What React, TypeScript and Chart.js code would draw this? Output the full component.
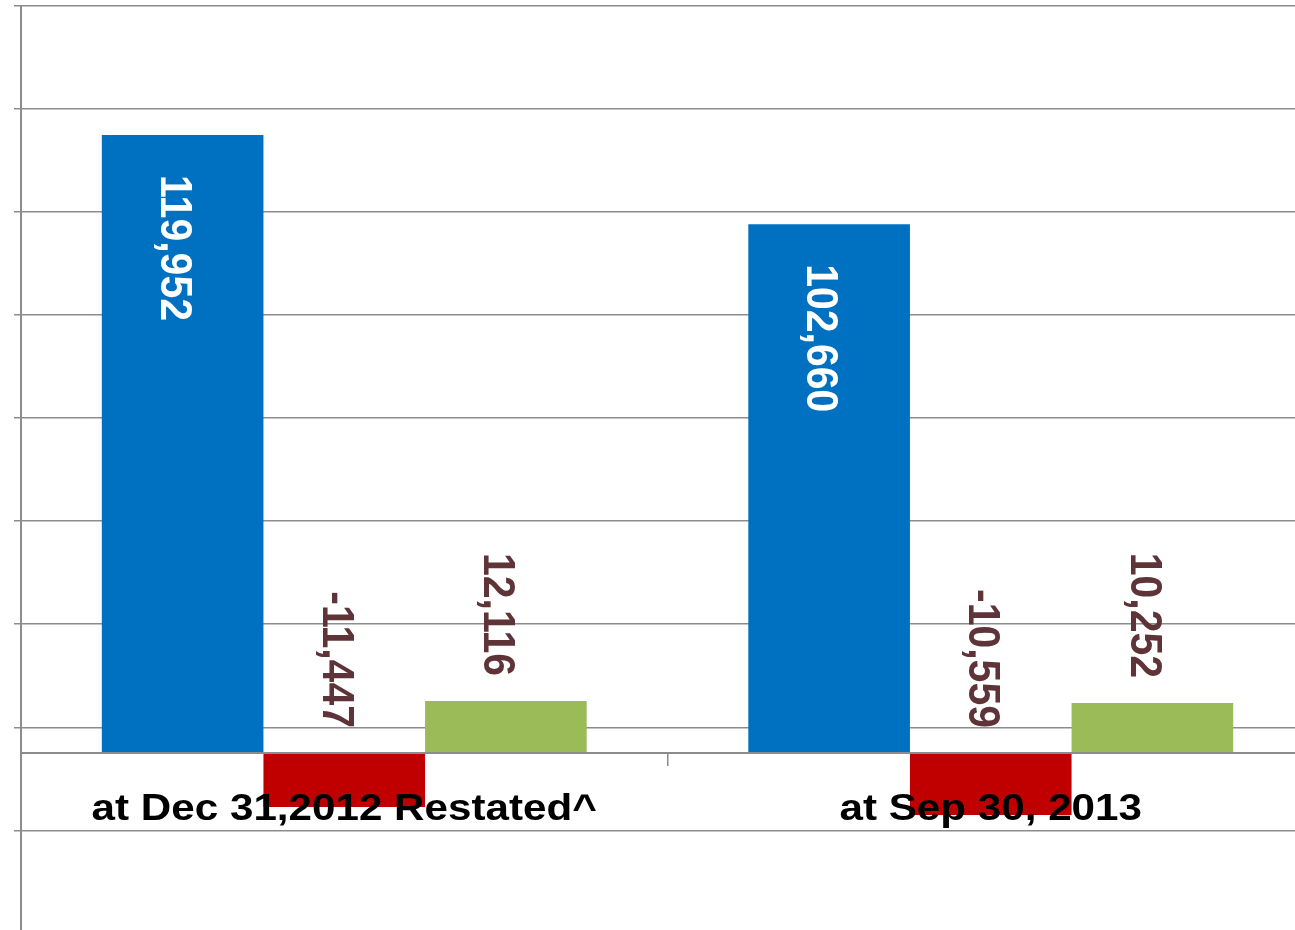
import React, { useEffect, useRef } from "react";
import { Chart, registerables } from "chart.js";

Chart.register(...registerables);

const categories = ["at Dec 31,2012 Restated^", "at Sep 30, 2013"];
const seriesBlue = [119952, 102660];
const seriesRed = [-10480, -12030];
const seriesGreen = [10090, 9700];
const labelsBlue = ["119,952", "102,660"];
const labelsRed = ["-11,447", "-10,559"];
const labelsGreen = ["12,116", "10,252"];
const yTicks = [-15000, 5000, 25000, 45000, 65000, 85000, 105000, 125000, 145000];

const FONT = '"Liberation Sans", Arial, sans-serif';
const GRID = "#8c8c8c";
const STRETCH_X = 1.14;

const dataLabelPlugin = {
  id: "rotatedLabels",
  afterDatasetsDraw(chart: any) {
    const ctx = chart.ctx;
    const size = 41;
    const sx = 1.07;
    const capH = size * 0.716 * sx;
    const sets = [
      { labels: labelsBlue, color: "#ffffff", inside: true },
      { labels: labelsRed, color: "#5E3438", inside: false },
      { labels: labelsGreen, color: "#5E3438", inside: false },
    ];
    ctx.save();
    ctx.font = `bold ${size}px ${FONT}`;
    sets.forEach((s, di) => {
      const meta = chart.getDatasetMeta(di);
      meta.data.forEach((bar: any, i: number) => {
        const top = Math.min(bar.y, bar.base);
        const cx = bar.x - 6 - capH / 2;
        ctx.save();
        ctx.fillStyle = s.color;
        ctx.textBaseline = "alphabetic";
        if (s.inside) {
          ctx.translate(cx, top + 40);
          ctx.textAlign = "left";
        } else {
          ctx.translate(cx, top - 25);
          ctx.textAlign = "right";
        }
        ctx.scale(sx, 1);
        ctx.rotate(Math.PI / 2);
        ctx.fillText(s.labels[i], 0, 0);
        ctx.restore();
      });
    });

    // category labels (slightly wide bold text, as in the reference)
    const xs = chart.scales.x;
    const zeroY = chart.scales.y.getPixelForValue(0);
    ctx.font = `bold 37px ${FONT}`;
    ctx.fillStyle = "#000000";
    ctx.textAlign = "center";
    ctx.textBaseline = "alphabetic";
    categories.forEach((c, i) => {
      const px = xs.getPixelForValue(i);
      ctx.save();
      ctx.translate(px, zeroY + 67);
      ctx.scale(STRETCH_X, 1);
      ctx.fillText(c, 0, 0);
      ctx.restore();
    });
    ctx.restore();
  },
};

export default function App() {
  const ref = useRef<HTMLCanvasElement | null>(null);

  useEffect(() => {
    document.body.style.overflow = "hidden";
    const canvas = ref.current;
    if (!canvas) return;
    const chart = new Chart(canvas, {
      type: "bar",
      data: {
        labels: categories,
        datasets: [
          { data: seriesBlue, backgroundColor: "#0070C0" },
          { data: seriesRed, backgroundColor: "#C00000" },
          { data: seriesGreen, backgroundColor: "#9BBB59" },
        ],
      },
      options: {
        responsive: false,
        animation: false,
        layout: { padding: { left: 14, top: 6, right: 2, bottom: 0 } },
        datasets: {
          bar: { categoryPercentage: 0.75, barPercentage: 1 },
        },
        plugins: {
          legend: { display: false },
          tooltip: { enabled: false },
        },
        scales: {
          x: {
            position: { y: 0 } as any,
            grid: {
              drawOnChartArea: false,
              drawTicks: true,
              tickLength: 12,
              color: GRID,
              lineWidth: 1.5,
              offset: true,
            },
            border: { display: true, color: GRID, width: 2, z: 1 },
            ticks: { display: false },
          },
          y: {
            min: -34350,
            max: 145000,
            afterBuildTicks: (scale: any) => {
              scale.ticks = yTicks.map((v) => ({ value: v }));
            },
            grid: {
              color: GRID,
              lineWidth: 1.5,
              drawTicks: true,
              tickLength: 7,
            },
            border: { display: true, color: GRID, width: 2 },
            ticks: { display: false },
          },
        },
      },
      plugins: [dataLabelPlugin],
    });
    return () => chart.destroy();
  }, []);

  return (
    <div
      style={{
        position: "fixed",
        left: 0,
        top: 0,
        width: 1295,
        height: 930,
        overflow: "hidden",
        background: "#ffffff",
      }}
    >
      <canvas ref={ref} width={1316} height={930} style={{ display: "block" }} />
    </div>
  );
}
